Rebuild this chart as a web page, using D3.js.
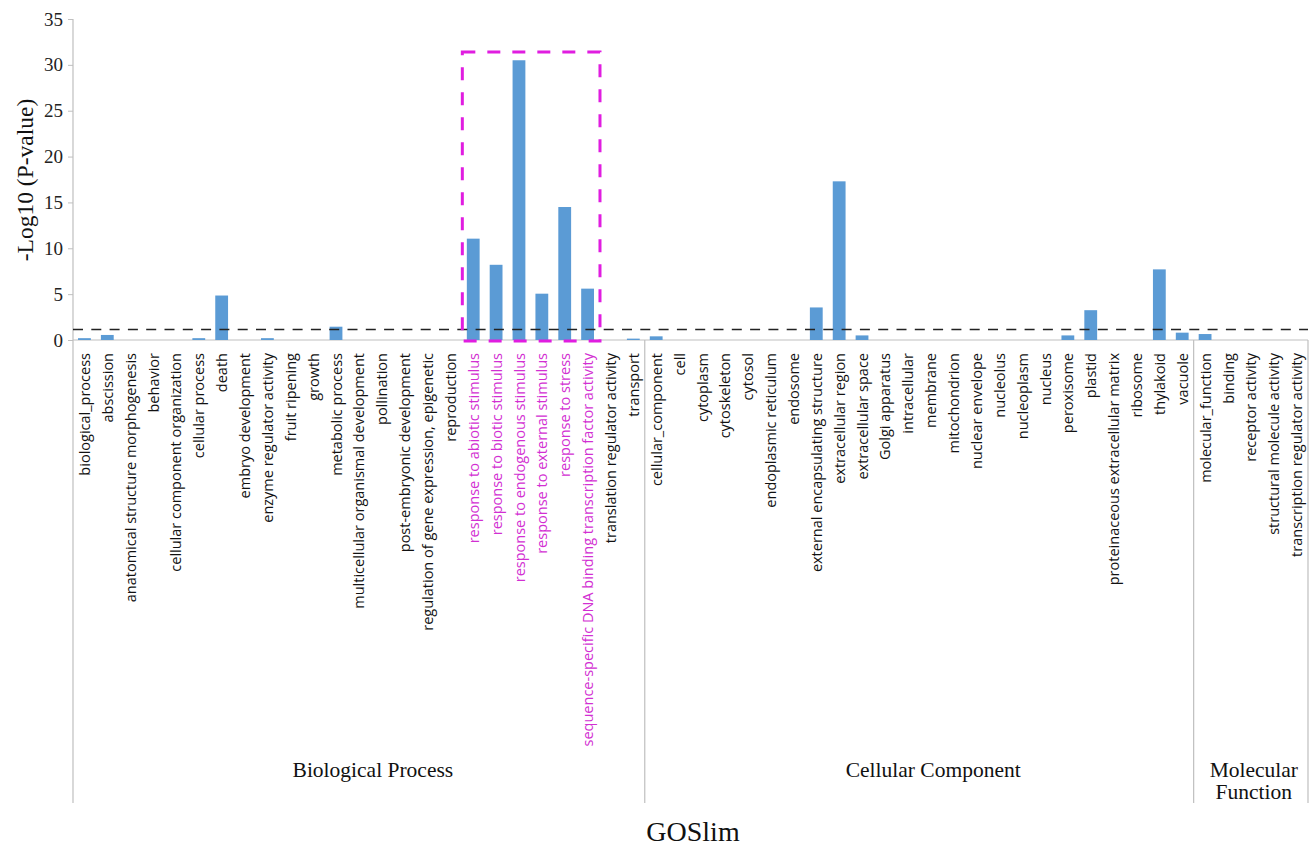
<!DOCTYPE html>
<html>
<head>
<meta charset="utf-8">
<script src="https://cdn.jsdelivr.net/npm/d3@7"></script>
<style>
  html, body { margin: 0; padding: 0; background: #fff; }
  svg { display: block; }
</style>
</head>
<body>
<svg id="chart" width="1314" height="847"></svg>
<script>
// GOSlim term categories, grouped by ontology
const bioProcess = [
  "biological_process", "abscission", "anatomical structure morphogenesis", "behavior",
  "cellular component organization", "cellular process", "death", "embryo development",
  "enzyme regulator activity", "fruit ripening", "growth", "metabolic process",
  "multicellular organismal development", "pollination", "post-embryonic development",
  "regulation of gene expression, epigenetic", "reproduction", "response to abiotic stimulus",
  "response to biotic stimulus", "response to endogenous  stimulus", "response to external stimulus",
  "response to stress", "sequence-specific DNA binding  transcription factor activity",
  "translation regulator activity", "transport"
];
const cellComponent = [
  "cellular_component", "cell", "cytoplasm", "cytoskeleton", "cytosol", "endoplasmic reticulum",
  "endosome", "external encapsulating structure", "extracellular region", "extracellular space",
  "Golgi apparatus", "intracellular", "membrane", "mitochondrion", "nuclear envelope", "nucleolus",
  "nucleoplasm", "nucleus", "peroxisome", "plastid", "proteinaceous extracellular matrix",
  "ribosome", "thylakoid", "vacuole"
];
const molFunction = [
  "molecular_function", "binding", "receptor activity", "structural molecule activity",
  "transcription regulator activity"
];

// -Log10(P-value) for each term, same order as above
const bioValues = [0.2, 0.55, 0, 0, 0, 0.2, 4.85, 0, 0.2, 0, 0, 1.45, 0, 0, 0, 0, 0,
  11.05, 8.2, 30.5, 5.05, 14.5, 5.6, 0, 0.15];
const cellValues = [0.4, 0, 0, 0, 0, 0, 0, 3.55, 17.3, 0.5, 0, 0, 0, 0, 0, 0, 0, 0,
  0.5, 3.25, 0, 0, 7.7, 0.8];
const molValues = [0.65, 0, 0, 0, 0];

// Terms highlighted as enriched response / regulation categories
const highlighted = [
  "response to abiotic stimulus", "response to biotic stimulus", "response to endogenous  stimulus",
  "response to external stimulus", "response to stress",
  "sequence-specific DNA binding  transcription factor activity"
];

const groupNames = [["Biological Process"], ["Cellular Component"], ["Molecular", "Function"]];
const yTicks = [0, 5, 10, 15, 20, 25, 30, 35];
const threshold = 1.15;   // significance cut-off line
const boxTop = 31.4;      // upper edge of the highlight frame

const groups = [bioProcess, cellComponent, molFunction];
const groupValues = [bioValues, cellValues, molValues];
const rows = [];
groups.forEach((g, gi) => g.forEach((name, i) => rows.push({ name, value: groupValues[gi][i], group: gi })));

const svg = d3.select("#chart");
const plotLeft = 73, plotRight = 1308, plotTop = 19, plotBase = 340, plotBottom = 803;
const groupLabelShift = [14, 14, 3];

const x = d3.scaleBand()
  .domain(rows.map(d => d.name))
  .range([plotLeft, plotRight])
  .paddingInner(0.44)
  .paddingOuter(0.22);
const y = d3.scaleLinear().domain([0, 35]).range([plotBase, plotTop]);
const step = x.step();

const axisColor = "#bfbfbf";
const barColor = "#5b9bd5";
const magenta = "#e01de0";
const labelMagenta = "#d22fd2";
const serif = "'Liberation Serif', 'Times New Roman', serif";

// y axis
const yAxis = svg.append("g")
  .attr("transform", `translate(${plotLeft},0)`)
  .call(d3.axisLeft(y).tickValues(yTicks).tickSize(5).tickPadding(5));
yAxis.select(".domain").remove();
yAxis.selectAll(".tick line").attr("stroke", axisColor);
yAxis.selectAll(".tick text")
  .attr("font-family", serif)
  .attr("font-size", 19)
  .attr("fill", "#222");

// axis frame lines
svg.append("line").attr("x1", plotLeft).attr("x2", plotLeft).attr("y1", plotTop).attr("y2", plotBottom)
  .attr("stroke", axisColor).attr("stroke-width", 1.2);
svg.append("line").attr("x1", plotLeft).attr("x2", plotRight).attr("y1", plotBase).attr("y2", plotBase)
  .attr("stroke", axisColor).attr("stroke-width", 1.2);

// group dividers
let offset = 0;
const dividerIdx = [];
groups.forEach(g => { offset += g.length; dividerIdx.push(offset); });
dividerIdx.forEach(idx => {
  const xx = plotLeft + idx * step;
  svg.append("line").attr("x1", xx).attr("x2", xx).attr("y1", plotBase).attr("y2", plotBottom)
    .attr("stroke", axisColor).attr("stroke-width", 1.2);
});

// bars
svg.append("g").selectAll("rect")
  .data(rows.filter(d => d.value > 0))
  .join("rect")
  .attr("x", d => x(d.name))
  .attr("width", x.bandwidth())
  .attr("y", d => y(d.value))
  .attr("height", d => y(0) - y(d.value))
  .attr("fill", barColor);

// significance threshold
svg.append("line")
  .attr("x1", plotLeft).attr("x2", plotRight)
  .attr("y1", y(threshold)).attr("y2", y(threshold))
  .attr("stroke", "#222").attr("stroke-width", 1.6)
  .attr("stroke-dasharray", "10,8.3");

// highlight frame around response terms
const bx0 = x(highlighted[0]) - 4.5;
const bx1 = x(highlighted[highlighted.length - 1]) + x.bandwidth() + 6;
svg.append("rect")
  .attr("x", bx0).attr("y", y(boxTop))
  .attr("width", bx1 - bx0).attr("height", y(0) + 1 - y(boxTop))
  .attr("fill", "none").attr("stroke", magenta).attr("stroke-width", 3)
  .attr("stroke-dasharray", "13,12");

// category labels
svg.append("g").selectAll("text")
  .data(rows)
  .join("text")
  .attr("transform", d => `translate(${x(d.name) + x.bandwidth() / 2 + 0.5},353) rotate(-90)`)
  .attr("text-anchor", "end")
  .attr("dy", "0.35em")
  .attr("font-family", "'Open Sans', sans-serif")
  .attr("font-size", 14.5)
  .attr("fill", d => highlighted.includes(d.name) ? labelMagenta : "#111")
  .text(d => d.name);

// group labels
let start = 0;
groups.forEach((g, gi) => {
  const cx = plotLeft + (start + g.length / 2) * step + groupLabelShift[gi];
  start += g.length;
  groupNames[gi].forEach((t, li) => {
    svg.append("text")
      .attr("x", cx).attr("y", 777 + li * 22)
      .attr("text-anchor", "middle")
      .attr("font-family", serif)
      .attr("font-size", 21.5)
      .attr("fill", "#111")
      .text(t);
  });
});

// axis titles
svg.append("text")
  .attr("x", 693).attr("y", 841)
  .attr("text-anchor", "middle")
  .attr("font-family", serif)
  .attr("font-size", 28)
  .attr("fill", "#111")
  .text("GOSlim");
svg.append("text")
  .attr("transform", "translate(33,180) rotate(-90)")
  .attr("text-anchor", "middle")
  .attr("font-family", serif)
  .attr("font-size", 23.5)
  .attr("fill", "#111")
  .text("-Log10 (P-value)");
</script>
</body>
</html>
